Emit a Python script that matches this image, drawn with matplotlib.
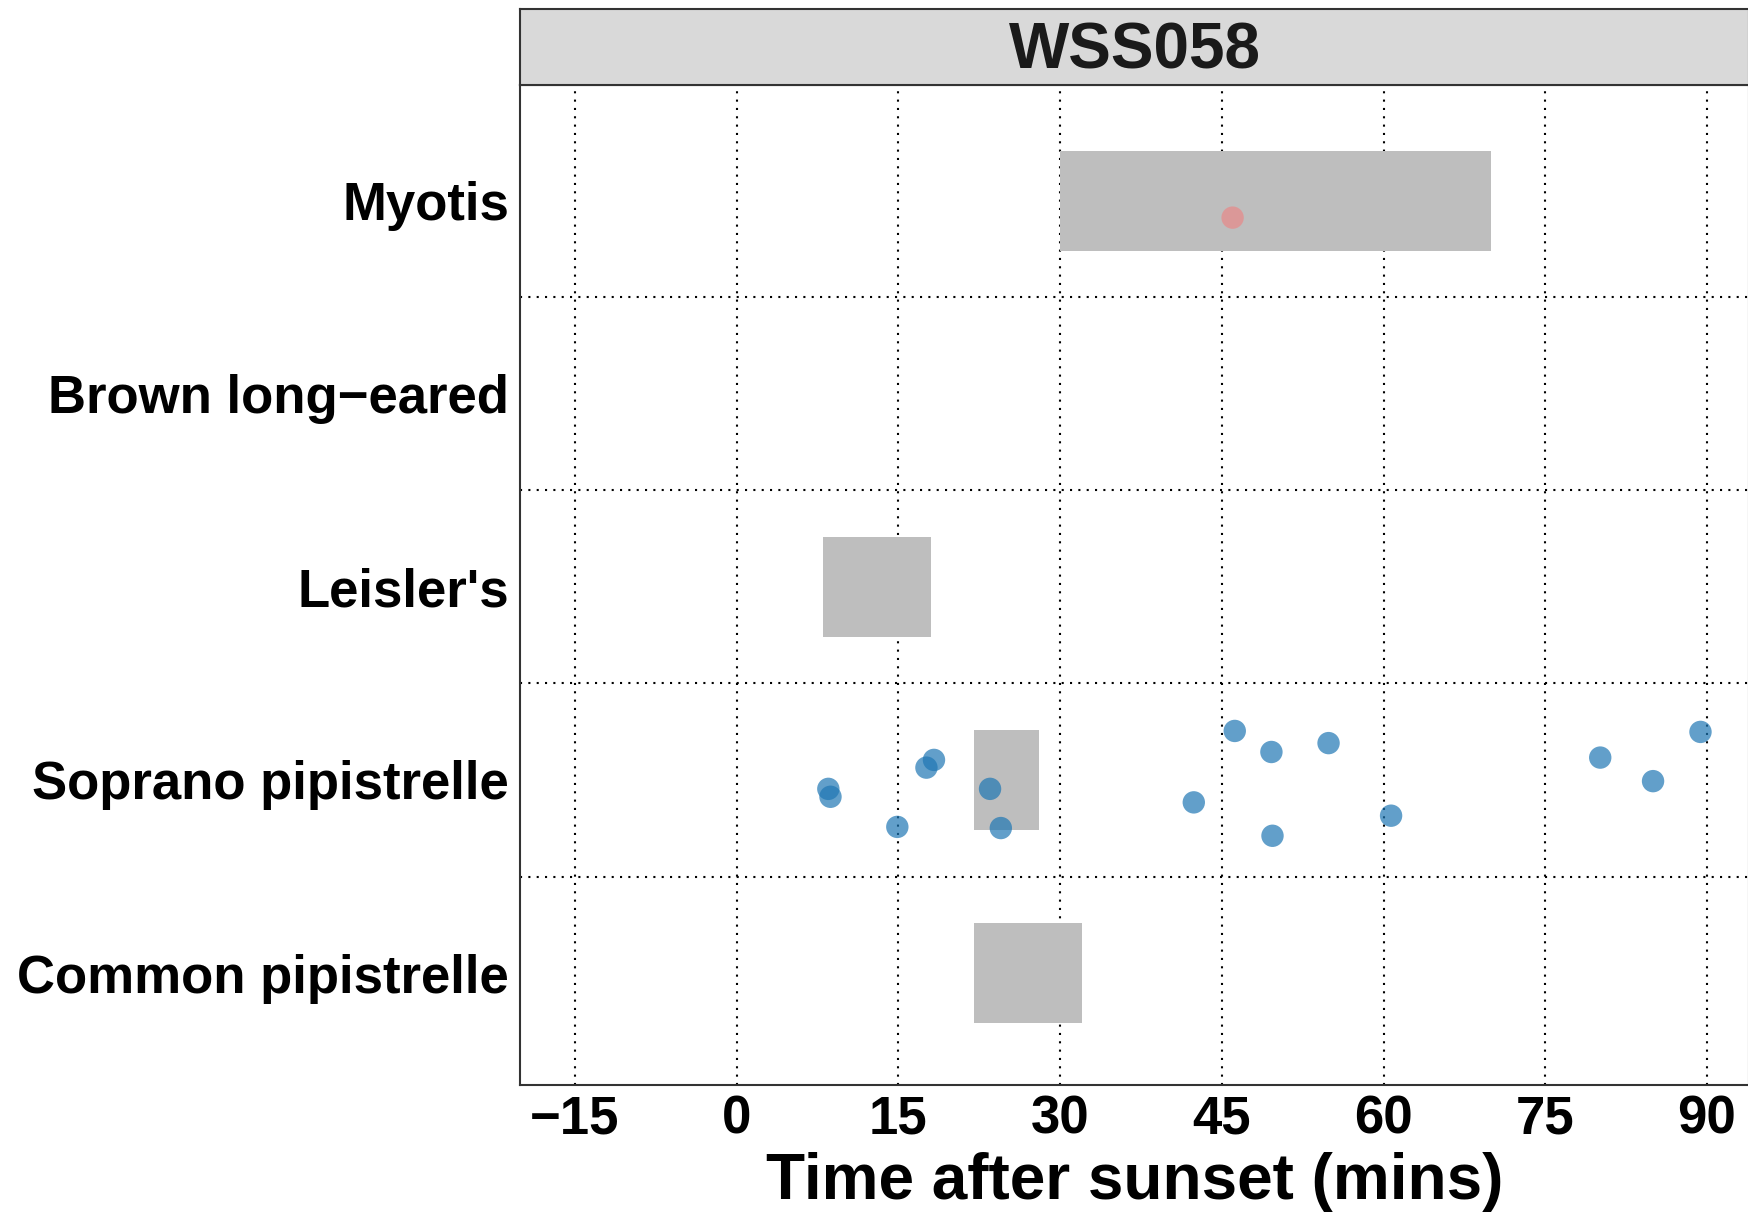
import matplotlib
matplotlib.use("Agg")
import matplotlib.pyplot as plt
from matplotlib.patches import Rectangle
import numpy as np

plt.rcParams['font.family'] = ['Liberation Sans', 'DejaVu Sans']

species = ["Common pipistrelle", "Soprano pipistrelle", "Leisler's", "Brown long\u2212eared", "Myotis"]
site = "WSS058"

# activity windows (start, end) in minutes after sunset per species (None = no window)
window_start = [22, 22, 8, None, 30]
window_end = [32, 28, 18, None, 70]

# observed passes: time (mins) and vertical jitter
soprano_times = [8.5, 8.7, 17.6, 18.3, 14.9, 23.5, 24.5, 42.4, 46.2, 49.6, 49.7, 54.9, 60.7, 80.1, 85.0, 89.4]
soprano_jitter = [-0.046, -0.087, 0.064, 0.104, -0.243, -0.046, -0.249, -0.116, 0.254, 0.145, -0.289, 0.191, -0.185, 0.116, -0.006, 0.249]
myotis_times = [46.0]
myotis_jitter = [-0.087]

x_ticks = [-15, 0, 15, 30, 45, 60, 75, 90]

W, H = 1749, 1213
fig = plt.figure(figsize=(W / 100, H / 100), dpi=100)
ax = fig.add_axes([520 / W, 1 - 1085 / H, 1 - 520 / W, (1085 - 85) / H])
strip = fig.add_axes([520 / W, 1 - 85 / H, 1 - 520 / W, 76 / H])

ax.set_xlim(-20.1, 93.9)
ax.set_ylim(0.42, 5.6)

# grid
for xt in x_ticks:
    ax.axvline(xt, color='black', linestyle=(0, (1, 3)), linewidth=1.5, zorder=0)
for yb in [1.5, 2.5, 3.5, 4.5]:
    ax.axhline(yb, color='black', linestyle=(0, (1, 3)), linewidth=1.5, zorder=0)

half_h = 0.26
for i, (s, e) in enumerate(zip(window_start, window_end)):
    if s is None:
        continue
    ax.add_patch(Rectangle((s, i + 1 - half_h), e - s, 2 * half_h,
                           facecolor='#BEBEBE', edgecolor='none', zorder=1))

ax.scatter(soprano_times, 2 + np.array(soprano_jitter), s=260, color='#1f77b4',
           alpha=0.7, edgecolors='none', zorder=3)
ax.scatter(myotis_times, 5 + np.array(myotis_jitter), s=260, color='#F08080',
           alpha=0.6, edgecolors='none', zorder=3)

ax.set_xticks(x_ticks)
ax.set_xticklabels(['\u221215' if t < 0 else str(t) for t in x_ticks])
ax.set_yticks(range(1, 6))
ax.set_yticklabels(species)
ax.tick_params(axis='both', length=0, labelsize=38, pad=8)
ax.tick_params(axis='x', pad=7)
for lab in ax.get_xticklabels() + ax.get_yticklabels():
    lab.set_fontweight('bold')
ax.set_xlabel("Time after sunset (mins)", fontsize=46, fontweight='bold', labelpad=5)
for sp in ax.spines.values():
    sp.set_color('#333333')
    sp.set_linewidth(1.5)

strip.set_facecolor('#D9D9D9')
strip.set_xticks([])
strip.set_yticks([])
for sp in strip.spines.values():
    sp.set_color('#333333')
    sp.set_linewidth(1.5)
strip.text(0.5, 0.44, site, transform=strip.transAxes, ha='center', va='center',
           fontsize=46, fontweight='bold', color='#1A1A1A')

fig.savefig("out.png", dpi=100)
